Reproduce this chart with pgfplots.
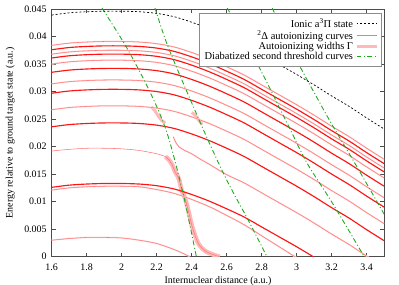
\documentclass[border=0pt]{standalone}
\usepackage{fontspec}
\setmainfont{Liberation Serif}
\usepackage{pgfplots}
\pgfplotsset{compat=1.18}
\definecolor{gcol}{RGB}{30,170,30}
\definecolor{thk}{RGB}{255,20,20}
\definecolor{thn}{RGB}{255,120,120}
\definecolor{halo}{RGB}{255,215,215}
\definecolor{band}{RGB}{255,185,185}
\pgfplotsset{
  thickc/.style={draw=thk, line width=1.15pt, smooth, forget plot, no marks},
  thinc/.style={draw=thn, line width=0.55pt, smooth, forget plot, no marks},
  haloc/.style={draw=halo, line width=1.5pt, smooth, forget plot, no marks},
  bandc/.style={draw=band, line width=4.5pt, smooth, forget plot, no marks},
  greenc/.style={draw=gcol, line width=0.9pt, dash pattern=on 5pt off 2.5pt on 1pt off 2.5pt, smooth, forget plot, no marks},
}
\begin{document}
\begin{tikzpicture}
\useasboundingbox (-51.7bp,-28.3bp) rectangle (347.3bp,256.7bp);
\begin{axis}[
  at={(0,0)}, anchor=south west, scale only axis,
  width=332.5bp, height=247.7bp,
  xmin=1.6, xmax=3.5, ymin=0, ymax=0.045,
  xtick={1.6,1.8,2,2.2,2.4,2.6,2.8,3,3.2,3.4},
  xticklabels={1.6,1.8,2,2.2,2.4,2.6,2.8,3,3.2,3.4},
  ytick={0,0.005,0.01,0.015,0.02,0.025,0.03,0.035,0.04,0.045},
  yticklabels={0,0.005,0.01,0.015,0.02,0.025,0.03,0.035,0.04,0.045},
  scaled y ticks=false, scaled x ticks=false,
  tick align=inside, major tick length=4bp,
  axis line style={black!70, line width=0.6pt},
  every tick/.style={black!70, line width=0.5pt},
  tick label style={font=\fontsize{10}{12}\selectfont},
  xticklabel style={yshift=-3.5bp},
  yticklabel style={xshift=-1.5bp},
  label style={font=\fontsize{10}{12}\selectfont},
  xlabel={Internuclear distance (a.u.)},
  ylabel={Energy relative to ground target state (a.u.)},
  xlabel style={at={(axis description cs:0.5,-0.1)}, anchor=center},
  ylabel style={at={(axis description cs:-0.125,0.5)}, anchor=center},
  legend plot pos=right, legend cell align=right,
  legend style={at={(1,1)}, anchor=north east, xshift=-3bp, yshift=-4bp,
    draw=black!45, fill=white, font=\fontsize{10.5}{11}\selectfont,
    inner xsep=3bp, inner ysep=3.5bp, row sep=-2.6bp},
  legend image code/.code={\draw[#1] (0cm,0cm) -- (20bp,0cm);},
]
\addlegendimage{black, line width=0.7pt, dash pattern=on 2pt off 2pt}
\addlegendentry{Ionic a\textsuperscript{3}Π state}
\addlegendimage{thn, line width=0.8pt}
\addlegendentry{\textsuperscript{2}Δ autoionizing curves}
\addlegendimage{band, line width=3pt}
\addlegendentry{Autoionizing widths Γ}
\addlegendimage{gcol, line width=0.9pt, dash pattern=on 5pt off 2.5pt on 1pt off 2.5pt}
\addlegendentry{Diabatized second threshold curves}

% widths bands
\addplot[bandc] coordinates {(2.25,0.0182)(2.27,0.0176)(2.29,0.0166)(2.305,0.0154)(2.322,0.0145)(2.333,0.0134)(2.343,0.0120)(2.36,0.0108)(2.38,0.0085)(2.40,0.0058)(2.42,0.0038)(2.436,0.0025)(2.46,0.0015)(2.49,0.0008)(2.53,0.0003)(2.56,0)};
\addplot[bandc, line width=3pt] coordinates {(2.17,0.0272)(2.19,0.0265)(2.21,0.0255)(2.23,0.0247)(2.25,0.0243)};
\addplot[bandc, line width=3pt] coordinates {(2.40,0.0262)(2.42,0.0257)(2.44,0.0248)(2.46,0.0240)};

% thin curves (with halo)
\addplot[haloc] coordinates {(1.6,0.0384)(1.7,0.0388)(1.8,0.0390)(1.9,0.0391)(2.0,0.0391)(2.1,0.0390)(2.2,0.0387)(2.3,0.0381)(2.4,0.0371)(2.5,0.0359)(2.6,0.0345)(2.7,0.0330)(2.8,0.0312)(2.9,0.0294)(3.0,0.0276)(3.1,0.0257)(3.2,0.0237)(3.3,0.0218)(3.4,0.0197)(3.5,0.0177)};
\addplot[thinc] coordinates {(1.6,0.0384)(1.7,0.0388)(1.8,0.0390)(1.9,0.0391)(2.0,0.0391)(2.1,0.0390)(2.2,0.0387)(2.3,0.0381)(2.4,0.0371)(2.5,0.0359)(2.6,0.0345)(2.7,0.0330)(2.8,0.0312)(2.9,0.0294)(3.0,0.0276)(3.1,0.0257)(3.2,0.0237)(3.3,0.0218)(3.4,0.0197)(3.5,0.0177)};
\addplot[haloc] coordinates {(1.6,0.0368)(1.7,0.0372)(1.8,0.0374)(1.9,0.0375)(2.0,0.0375)(2.1,0.0374)(2.2,0.0371)(2.3,0.0365)(2.4,0.0355)(2.5,0.0343)(2.6,0.0329)(2.7,0.0314)(2.8,0.0296)(2.9,0.0278)(3.0,0.0260)(3.1,0.0241)(3.2,0.0221)(3.3,0.0202)(3.4,0.0181)(3.5,0.0161)};
\addplot[thinc] coordinates {(1.6,0.0368)(1.7,0.0372)(1.8,0.0374)(1.9,0.0375)(2.0,0.0375)(2.1,0.0374)(2.2,0.0371)(2.3,0.0365)(2.4,0.0355)(2.5,0.0343)(2.6,0.0329)(2.7,0.0314)(2.8,0.0296)(2.9,0.0278)(3.0,0.0260)(3.1,0.0241)(3.2,0.0221)(3.3,0.0202)(3.4,0.0181)(3.5,0.0161)};
\addplot[haloc] coordinates {(1.6,0.0350)(1.7,0.0354)(1.8,0.0356)(1.9,0.0357)(2.0,0.0357)(2.1,0.0356)(2.2,0.0353)(2.3,0.0347)(2.4,0.0337)(2.5,0.0325)(2.6,0.0311)(2.7,0.0296)(2.8,0.0278)(2.9,0.0260)(3.0,0.0242)(3.1,0.0223)(3.2,0.0203)(3.3,0.0184)(3.4,0.0163)(3.5,0.0143)};
\addplot[thinc] coordinates {(1.6,0.0350)(1.7,0.0354)(1.8,0.0356)(1.9,0.0357)(2.0,0.0357)(2.1,0.0356)(2.2,0.0353)(2.3,0.0347)(2.4,0.0337)(2.5,0.0325)(2.6,0.0311)(2.7,0.0296)(2.8,0.0278)(2.9,0.0260)(3.0,0.0242)(3.1,0.0223)(3.2,0.0203)(3.3,0.0184)(3.4,0.0163)(3.5,0.0143)};
\addplot[haloc] coordinates {(1.6,0.0314)(1.7,0.0318)(1.8,0.0320)(1.9,0.0321)(2.0,0.0321)(2.1,0.0320)(2.2,0.0317)(2.3,0.0311)(2.4,0.0301)(2.5,0.0289)(2.6,0.0275)(2.7,0.0260)(2.8,0.0242)(2.9,0.0224)(3.0,0.0206)(3.1,0.0187)(3.2,0.0167)(3.3,0.0148)(3.4,0.0127)(3.5,0.0107)};
\addplot[thinc] coordinates {(1.6,0.0314)(1.7,0.0318)(1.8,0.0320)(1.9,0.0321)(2.0,0.0321)(2.1,0.0320)(2.2,0.0317)(2.3,0.0311)(2.4,0.0301)(2.5,0.0289)(2.6,0.0275)(2.7,0.0260)(2.8,0.0242)(2.9,0.0224)(3.0,0.0206)(3.1,0.0187)(3.2,0.0167)(3.3,0.0148)(3.4,0.0127)(3.5,0.0107)};
\addplot[haloc] coordinates {(1.6,0.0267)(1.7,0.0271)(1.8,0.0273)(1.9,0.0274)(2.0,0.0274)(2.1,0.0273)(2.2,0.0270)(2.3,0.0264)(2.4,0.0254)(2.5,0.0242)(2.6,0.0228)(2.7,0.0213)(2.8,0.0195)(2.9,0.0177)(3.0,0.0159)(3.1,0.0140)(3.2,0.0120)(3.3,0.0101)(3.4,0.0080)(3.5,0.0060)};
\addplot[thinc] coordinates {(1.6,0.0267)(1.7,0.0271)(1.8,0.0273)(1.9,0.0274)(2.0,0.0274)(2.1,0.0273)(2.2,0.0270)(2.3,0.0264)(2.4,0.0254)(2.5,0.0242)(2.6,0.0228)(2.7,0.0213)(2.8,0.0195)(2.9,0.0177)(3.0,0.0159)(3.1,0.0140)(3.2,0.0120)(3.3,0.0101)(3.4,0.0080)(3.5,0.0060)};
% L11 left and right
\addplot[thinc] coordinates {(1.6,0.0192)(1.7,0.0195)(1.8,0.0197)(1.9,0.0197)(2.0,0.0196)(2.1,0.0193)(2.2,0.0187)(2.25,0.0182)};
\addplot[thinc] coordinates {(2.25,0.0182)(2.27,0.0176)(2.29,0.0166)(2.305,0.0154)(2.322,0.0145)(2.333,0.0134)(2.343,0.0120)(2.36,0.0108)(2.38,0.0085)(2.40,0.0058)(2.42,0.0038)(2.436,0.0025)(2.46,0.0015)(2.49,0.0008)(2.53,0.0003)(2.56,0)};
\addplot[haloc] coordinates {(2.295,0.0218)(2.31,0.0207)(2.33,0.0199)(2.36,0.0193)(2.4,0.0187)(2.45,0.0177)(2.5,0.0168)(2.6,0.0149)(2.7,0.0134)(2.8,0.0116)(2.9,0.0098)(3.0,0.0080)(3.1,0.0061)(3.2,0.0041)(3.3,0.0022)(3.4,0.0001)(3.5,-0.0019)};
\addplot[thinc] coordinates {(2.295,0.0218)(2.31,0.0207)(2.33,0.0199)(2.36,0.0193)(2.4,0.0187)(2.45,0.0177)(2.5,0.0168)(2.6,0.0149)(2.7,0.0134)(2.8,0.0116)(2.9,0.0098)(3.0,0.0080)(3.1,0.0061)(3.2,0.0041)(3.3,0.0022)(3.4,0.0001)(3.5,-0.0019)};
% L13
\addplot[haloc] coordinates {(1.6,0.0121)(1.7,0.0125)(1.8,0.0127)(1.9,0.0128)(2.0,0.0128)(2.1,0.0127)(2.2,0.0122)(2.3,0.0115)(2.4,0.0104)(2.5,0.0091)(2.6,0.0075)(2.7,0.0058)(2.8,0.0038)(2.9,0.0018)(3.0,-0.0002)};
\addplot[thinc] coordinates {(1.6,0.0121)(1.7,0.0125)(1.8,0.0127)(1.9,0.0128)(2.0,0.0128)(2.1,0.0127)(2.2,0.0122)(2.3,0.0115)(2.4,0.0104)(2.5,0.0091)(2.6,0.0075)(2.7,0.0058)(2.8,0.0038)(2.9,0.0018)(3.0,-0.0002)};
% L14
\addplot[haloc] coordinates {(1.6,0.0030)(1.7,0.0033)(1.8,0.0035)(1.9,0.0035)(2.0,0.0034)(2.1,0.0030)(2.2,0.0024)(2.3,0.0013)(2.35,0.0006)(2.39,0)};
\addplot[thinc] coordinates {(1.6,0.0030)(1.7,0.0033)(1.8,0.0035)(1.9,0.0035)(2.0,0.0034)(2.1,0.0030)(2.2,0.0024)(2.3,0.0013)(2.35,0.0006)(2.39,0)};

% thick curves
\addplot[thickc] coordinates {(1.6,0.0376)(1.7,0.0380)(1.8,0.0382)(1.9,0.0383)(2.0,0.0383)(2.1,0.0382)(2.2,0.0379)(2.3,0.0373)(2.4,0.0363)(2.5,0.0351)(2.6,0.0337)(2.7,0.0322)(2.8,0.0304)(2.9,0.0286)(3.0,0.0268)(3.1,0.0249)(3.2,0.0229)(3.3,0.0210)(3.4,0.0189)(3.5,0.0169)};
\addplot[thickc] coordinates {(1.6,0.0361)(1.7,0.0365)(1.8,0.0367)(1.9,0.0368)(2.0,0.0368)(2.1,0.0367)(2.2,0.0364)(2.3,0.0358)(2.4,0.0348)(2.5,0.0336)(2.6,0.0322)(2.7,0.0307)(2.8,0.0289)(2.9,0.0271)(3.0,0.0253)(3.1,0.0234)(3.2,0.0214)(3.3,0.0195)(3.4,0.0174)(3.5,0.0154)};
\addplot[thickc] coordinates {(1.6,0.0335)(1.7,0.0339)(1.8,0.0341)(1.9,0.0342)(2.0,0.0342)(2.1,0.0341)(2.2,0.0338)(2.3,0.0332)(2.4,0.0322)(2.5,0.0310)(2.6,0.0296)(2.7,0.0281)(2.8,0.0263)(2.9,0.0245)(3.0,0.0227)(3.1,0.0208)(3.2,0.0188)(3.3,0.0169)(3.4,0.0148)(3.5,0.0128)};
\addplot[thickc] coordinates {(1.6,0.0297)(1.7,0.0301)(1.8,0.0303)(1.9,0.0304)(2.0,0.0304)(2.1,0.0303)(2.2,0.0300)(2.3,0.0294)(2.4,0.0284)(2.5,0.0272)(2.6,0.0258)(2.7,0.0243)(2.8,0.0225)(2.9,0.0207)(3.0,0.0189)(3.1,0.0170)(3.2,0.0150)(3.3,0.0131)(3.4,0.0110)(3.5,0.0090)};
\addplot[thickc] coordinates {(1.6,0.0236)(1.7,0.0240)(1.8,0.0242)(1.9,0.0243)(2.0,0.0243)(2.1,0.0242)(2.2,0.0239)(2.3,0.0233)(2.4,0.0223)(2.5,0.0211)(2.6,0.0197)(2.7,0.0182)(2.8,0.0164)(2.9,0.0146)(3.0,0.0128)(3.1,0.0109)(3.2,0.0089)(3.3,0.0070)(3.4,0.0049)(3.5,0.0029)};
\addplot[thickc] coordinates {(1.6,0.0126)(1.7,0.0130)(1.8,0.0132)(1.9,0.0133)(2.0,0.0133)(2.1,0.0132)(2.2,0.0129)(2.3,0.0123)(2.4,0.0113)(2.5,0.0101)(2.6,0.0087)(2.7,0.0072)(2.8,0.0054)(2.9,0.0036)(3.0,0.0018)(3.1,-0.0001)};

% diabatized second threshold curves
\addplot[greenc] coordinates {(1.887,0.0452)(2.030,0.0379)(2.162,0.0299)(2.259,0.0225)(2.350,0.0116)(2.419,0.0012)(2.426,0)};
\addplot[greenc] coordinates {(2.19,0.0452)(2.257,0.0388)(2.352,0.0315)(2.493,0.0212)(2.607,0.0135)(2.722,0.0067)(2.819,0.0007)(2.83,0)};
\addplot[greenc] coordinates {(2.603,0.0452)(2.773,0.0352)(2.951,0.0239)(3.059,0.0170)(3.201,0.0099)(3.373,0.0007)(3.385,0)};
\addplot[greenc] coordinates {(2.86,0.0452)(3.0,0.0357)(3.133,0.0279)(3.198,0.0242)(3.343,0.0164)(3.493,0.0081)(3.51,0.0072)};

% ionic state
\addplot[black, line width=0.7pt, dash pattern=on 2pt off 2pt, smooth, forget plot] coordinates {(1.6,0.0439)(1.7,0.0443)(1.8,0.0445)(1.9,0.0446)(2.0,0.0446)(2.1,0.0445)(2.2,0.0442)(2.3,0.0436)(2.4,0.0426)(2.5,0.0414)(2.6,0.0400)(2.7,0.0385)(2.8,0.0367)(2.9,0.0349)(3.0,0.0331)(3.1,0.0312)(3.2,0.0292)(3.3,0.0273)(3.4,0.0252)(3.5,0.0232)};
\end{axis}
\end{tikzpicture}
\end{document}
